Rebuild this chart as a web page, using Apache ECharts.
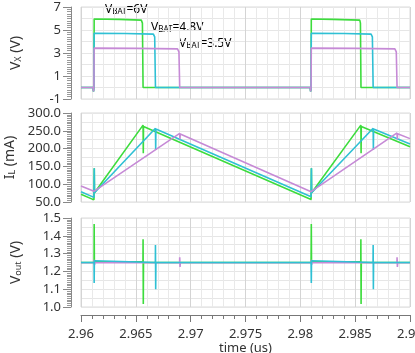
<!DOCTYPE html>
<html>
<head>
<meta charset="utf-8">
<script src="https://cdn.jsdelivr.net/npm/echarts@6/dist/echarts.min.js"></script>
<style>
  html, body { margin: 0; padding: 0; background: #fff; }
  #chart { width: 415px; height: 353px; }
</style>
</head>
<body>
<div id="chart"></div>
<script>
// time axis (us)
var tMin = 2.96, tMax = 2.99;
var tickLabels = ['2.96', '2.965', '2.97', '2.975', '2.98', '2.985', '2.99'];

// Vx (V) : [time, value]
var vxGreen = [[2.96,0],[2.9611,0],[2.96114,-0.35],[2.96118,0.1],[2.9612,5.95],[2.9635,5.92],[2.9655,5.86],[2.9656,5.6],[2.96566,0],
  [2.9809,0],[2.98094,-0.35],[2.98098,0.1],[2.981,5.95],[2.983,5.92],[2.98542,5.86],[2.98548,5.6],[2.98553,0],[2.99,0]];
var vxCyan = [[2.96,0],[2.9611,0],[2.96114,-0.35],[2.96118,0.1],[2.9612,4.72],[2.964,4.69],[2.9666,4.64],[2.96672,4.4],[2.96679,0],
  [2.9809,0],[2.98094,-0.35],[2.98098,0.1],[2.981,4.72],[2.984,4.69],[2.98645,4.64],[2.98657,4.4],[2.98664,0],[2.99,0]];
var vxMagenta = [[2.96,0],[2.9611,0],[2.96114,-0.35],[2.96118,0.1],[2.9612,3.42],[2.965,3.4],[2.9688,3.36],[2.96893,3.1],[2.969,0],
  [2.9809,0],[2.98094,-0.35],[2.98098,0.1],[2.981,3.42],[2.985,3.4],[2.98862,3.36],[2.98875,3.1],[2.98882,0],[2.99,0]];

// IL (mA)
var ilGreen = [[2.96,72],[2.96118,56],[2.9612,58],[2.96121,145],[2.96123,76],[2.96566,266],[2.96568,187],[2.9657,262],
  [2.98098,57],[2.981,58],[2.98101,145],[2.98103,76],[2.98552,266],[2.98554,187],[2.98556,262],[2.99,205]];
var ilCyan = [[2.96,79],[2.96118,63],[2.9612,64],[2.96121,145],[2.96123,76],[2.96679,257],[2.96681,196],[2.96683,255],
  [2.98098,65],[2.981,66],[2.98101,145],[2.98103,76],[2.98664,257],[2.98666,196],[2.98668,255],[2.99,213]];
var ilMagenta = [[2.96,95],[2.96118,80],[2.96124,78],[2.969,243],[2.96902,226],[2.96905,241],
  [2.98098,79],[2.98104,78],[2.98882,244],[2.98884,226],[2.98887,242],[2.99,228]];

// Vout (V)
var voGreen = [[2.96,1.25],[2.96119,1.25],[2.9612,1.466],[2.96122,1.254],[2.96565,1.254],[2.96566,1.38],[2.96568,1.017],[2.9657,1.25],
  [2.98098,1.25],[2.981,1.466],[2.98102,1.254],[2.98551,1.254],[2.98552,1.38],[2.98554,1.017],[2.98556,1.25],[2.99,1.25]];
var voCyan = [[2.96,1.25],[2.96119,1.25],[2.9612,1.135],[2.96122,1.26],[2.96124,1.25],[2.96678,1.25],[2.96679,1.348],[2.96681,1.10],[2.96683,1.25],
  [2.98098,1.25],[2.981,1.135],[2.98102,1.26],[2.98104,1.25],[2.98663,1.25],[2.98664,1.348],[2.98666,1.10],[2.98668,1.25],[2.99,1.25]];
var voMagenta = [[2.96,1.249],[2.96118,1.249],[2.9612,1.265],[2.96123,1.237],[2.96126,1.249],[2.96899,1.249],[2.969,1.28],[2.96903,1.225],[2.96906,1.249],
  [2.98098,1.249],[2.981,1.265],[2.98103,1.237],[2.98106,1.249],[2.98881,1.249],[2.98882,1.28],[2.98885,1.225],[2.98888,1.249],[2.99,1.249]];

var cGreen = '#3ddc3d', cCyan = '#2fc0d4', cMagenta = '#c68ad6';
var font = 'Noto Sans';
var txt = '#333';

var chart = echarts.init(document.getElementById('chart'));

var panels = [
  {min: -1, max: 7, step: 2, grid: 1, fmt: function (v) { return String(Math.round(v)); },
   name: '{n|V}{s|X}{n| (V)}', top: 7, height: 92},
  {min: 50, max: 300, step: 50, grid: 25, fmt: function (v) { return v.toFixed(1); },
   name: '{n|I}{s|L}{n| (mA)}', top: 113, height: 89},
  {min: 1.0, max: 1.5, step: 0.1, grid: 0.05, fmt: function (v) { return v.toFixed(1); },
   name: '{n|V}{s|out}{n| (V)}', top: 218, height: 89}
];

var grids = [], xAxes = [], yAxes = [];
panels.forEach(function (p, i) {
  grids.push({left: 81, right: 5, top: p.top, height: p.height, show: true, borderColor: '#dadada', borderWidth: 1,
    containLabel: false, outerBoundsMode: 'none'});
  var last = i === 2;
  xAxes.push({
    type: 'value', gridIndex: i, min: tMin, max: tMax, interval: 0.005,
    offset: last ? 8 : 0,
    axisLine: {show: last, onZero: false, lineStyle: {color: '#777'}},
    axisTick: {show: last, length: 7, lineStyle: {color: '#777'}},
    minorTick: {show: last, splitNumber: 5, length: 4, lineStyle: {color: '#777'}},
    splitLine: {show: true, lineStyle: {color: '#d4d4d4'}},
    minorSplitLine: {show: true, lineStyle: {color: '#e9e9e9'}},
    axisLabel: {show: last, margin: 13, fontSize: 13, color: txt, fontFamily: font,
      formatter: function (v) { return tickLabels[Math.round((v - tMin) / 0.005)]; }},
    name: last ? 'time (us)' : '', nameLocation: 'middle', nameGap: 27,
    nameTextStyle: {fontSize: 13, color: txt, fontFamily: font}
  });
  // grid lines
  yAxes.push({
    type: 'value', gridIndex: i, min: p.min, max: p.max, interval: p.grid,
    axisLine: {show: false}, axisTick: {show: false}, axisLabel: {show: false},
    splitLine: {show: true, lineStyle: {color: '#e6e6e6'}}
  });
  // ruler with labels
  yAxes.push({
    type: 'value', gridIndex: i, min: p.min, max: p.max, interval: p.step,
    position: 'left', offset: 10,
    axisLine: {show: true, lineStyle: {color: '#888'}},
    axisTick: {show: true, length: 8, lineStyle: {color: '#888'}},
    minorTick: {show: true, splitNumber: 10, length: 4, lineStyle: {color: '#999'}},
    splitLine: {show: false},
    axisLabel: {margin: 10, fontSize: 13, color: txt, fontFamily: font, formatter: p.fmt},
    name: p.name, nameLocation: 'middle', nameRotate: 90, nameGap: 48,
    nameTextStyle: {rich: {
      n: {fontSize: 14, color: txt, fontFamily: font},
      s: {fontSize: 9, color: txt, fontFamily: font, verticalAlign: 'bottom'}
    }}
  });
});

function line(data, color, i) {
  return {type: 'line', xAxisIndex: i, yAxisIndex: 2 * i, data: data, showSymbol: false,
    symbol: 'none', animation: false, lineStyle: {color: color, width: 1.6}};
}

var ann = {
  a: {fontSize: 12, color: txt, fontFamily: font},
  b: {fontSize: 8, color: txt, fontFamily: font, verticalAlign: 'bottom'}
};

chart.setOption({
  animation: false,
  textStyle: {fontFamily: font},
  grid: grids,
  xAxis: xAxes,
  yAxis: yAxes,
  graphic: [
    {type: 'text', left: 105, top: 4, style: {text: '{a|V}{b|BAT}{a|=6V}', rich: ann}},
    {type: 'text', left: 151, top: 22, style: {text: '{a|V}{b|BAT}{a|=4.8V}', rich: ann}},
    {type: 'text', left: 179, top: 38, style: {text: '{a|V}{b|BAT}{a|=3.5V}', rich: ann}}
  ],
  series: [
    line(vxGreen, cGreen, 0), line(vxCyan, cCyan, 0), line(vxMagenta, cMagenta, 0),
    line(ilGreen, cGreen, 1), line(ilCyan, cCyan, 1), line(ilMagenta, cMagenta, 1),
    line(voGreen, cGreen, 2), line(voMagenta, cMagenta, 2), line(voCyan, cCyan, 2)
  ]
});

window.addEventListener('resize', function () {
  chart.resize();
});
</script>
</body>
</html>
